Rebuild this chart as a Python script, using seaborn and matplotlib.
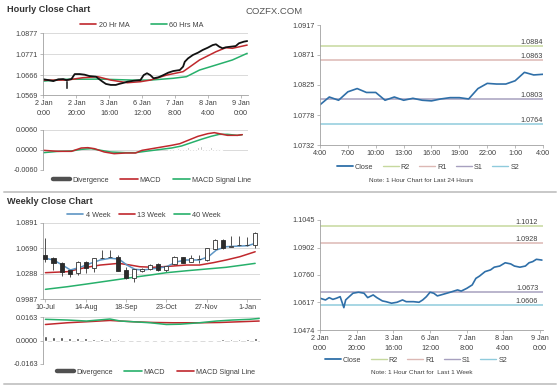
import numpy as np
import pandas as pd
import matplotlib
matplotlib.use("Agg")
import matplotlib.pyplot as plt
from matplotlib.lines import Line2D
import seaborn as sns

# ------------------------------------------------------------------ data
# Hourly close chart (x = hourly bar index)
h_tick_pos = [0, 20, 40, 60, 80, 100, 120]
h_tick_labels = ["2 Jan\n0:00", "2 Jan\n20:00", "3 Jan\n16:00", "6 Jan\n12:00",
                 "7 Jan\n8:00", "8 Jan\n4:00", "9 Jan\n0:00"]
h_yticks = [1.0569, 1.0666, 1.0771, 1.0877]
h_close_idx = [0, 3, 6, 9, 12, 14, 17, 19, 22, 25, 28, 32, 34, 36, 38, 41, 44, 46,
               49, 51, 55, 59, 61, 63, 65, 67, 70, 73, 76, 79, 83, 85, 86, 88, 91,
               94, 97, 100, 103, 105, 107, 109, 111, 114, 117, 119, 122, 124]
h_close = [1.0647, 1.0643, 1.0638, 1.0647, 1.0648, 1.0643, 1.0648, 1.0673, 1.0673,
           1.0670, 1.0663, 1.0660, 1.0647, 1.0635, 1.0624, 1.0619, 1.0619, 1.0624,
           1.0630, 1.0635, 1.0640, 1.0643, 1.0668, 1.0677, 1.0668, 1.0652, 1.0657,
           1.0668, 1.0680, 1.0688, 1.0693, 1.0710, 1.0734, 1.0751, 1.0768, 1.0779,
           1.0793, 1.0804, 1.0817, 1.0821, 1.0809, 1.0801, 1.0806, 1.0809, 1.0812,
           1.0826, 1.0834, 1.0837]
h_candle_idx = [14]
h_candle_open = [1.0643]
h_candle_close = [1.0600]
h_ma20_idx = [0, 14, 24, 33, 41, 51, 59, 65, 75, 85, 95, 105, 111, 115, 124]
h_ma20 = [1.0643, 1.0643, 1.0655, 1.0660, 1.0643, 1.0630, 1.0635, 1.0643, 1.0668,
          1.0685, 1.0743, 1.0784, 1.0804, 1.0801, 1.0817]
h_ma60_idx = [0, 14, 34, 55, 65, 79, 87, 95, 105, 115, 124]
h_ma60 = [1.0638, 1.0647, 1.0648, 1.0643, 1.0643, 1.0652, 1.0660, 1.0693, 1.0718,
          1.0743, 1.0776]
h_macd_idx = [0, 9, 17, 23, 27, 31, 37, 43, 50, 56, 60, 66, 72, 78, 83, 88, 94, 100,
              104, 107, 112, 118, 121]
h_macd = [-0.0001, -0.0004, -0.0004, 0.0006, 0.0007, 0.0004, -0.0006, -0.0011,
          -0.0009, -0.0009, -0.0001, 0.0004, 0.0009, 0.0014, 0.0019, 0.0029, 0.0041,
          0.0049, 0.0052, 0.0049, 0.0044, 0.0044, 0.0046]
h_sig_idx = [0, 9, 17, 23, 29, 35, 41, 50, 56, 62, 70, 78, 84, 90, 96, 102, 107, 112,
             118, 121]
h_sig = [-0.0008, -0.0004, -0.0003, 0.0002, 0.0004, -0.0001, -0.0006, -0.0008,
         -0.0008, -0.0004, 0.0001, 0.0006, 0.0012, 0.0022, 0.0032, 0.0041, 0.0047,
         0.0047, 0.0044, 0.0046]
h_div_idx = [76, 78, 80, 82, 84, 86, 88, 90, 92, 94, 96, 98, 100, 102, 104, 106, 108]
h_div = [0.0002, 0.0003, 0.0004, 0.0005, 0.0006, 0.0007, 0.0008, 0.0009, 0.0010,
         0.0010, 0.0011, 0.0010, 0.0009, 0.0008, 0.0006, 0.0004, 0.0002]
h_macd_ticks = [-0.0060, 0.0, 0.0060]

# Last 24 hours
d_hours = ["4:00", "7:00", "10:00", "13:00", "16:00", "19:00", "22:00", "1:00", "4:00"]
d_close = [1.0794, 1.0806, 1.0801, 1.0814, 1.0819, 1.0813, 1.0813, 1.0801, 1.0806,
           1.0801, 1.0804, 1.0801, 1.0800, 1.0803, 1.0805, 1.0805, 1.0803, 1.0819,
           1.0827, 1.0826, 1.0826, 1.0831, 1.0844, 1.0840, 1.0841]
d_yticks = [1.0732, 1.0778, 1.0825, 1.0871, 1.0917]
d_levels = [1.0884, 1.0863, 1.0803, 1.0764]   # R2, R1, S1, S2

# Weekly close chart (x = week index)
w_tick_pos = [0, 5, 10, 15, 20, 25]
w_tick_labels = ["10-Jul", "14-Aug", "18-Sep", "23-Oct", "27-Nov", "1-Jan"]
w_ytick_vals = [0.9987, 1.0288, 1.0589, 1.0891]
w_ytick_labels = ["0.9987", "1.0288", "1.0690", "1.0891"]
w_open = [1.0510, 1.0471, 1.0411, 1.0332, 1.0293, 1.0430, 1.0352, 1.0471, 1.0488,
          1.0490, 1.0332, 1.0233, 1.0320, 1.0340, 1.0403, 1.0332, 1.0403, 1.0483,
          1.0430, 1.0461, 1.0451, 1.0578, 1.0689, 1.0606, 1.0626, 1.0626, 1.0629]
w_high = [1.0709, 1.0490, 1.0430, 1.0340, 1.0440, 1.0440, 1.0475, 1.0570, 1.0570,
          1.0510, 1.0364, 1.0345, 1.0350, 1.0400, 1.0410, 1.0385, 1.0500, 1.0490,
          1.0510, 1.0510, 1.0595, 1.0700, 1.0695, 1.0740, 1.0740, 1.0730, 1.0780]
w_low = [1.0427, 1.0332, 1.0260, 1.0252, 1.0272, 1.0293, 1.0312, 1.0468, 1.0486,
         1.0320, 1.0225, 1.0193, 1.0310, 1.0330, 1.0325, 1.0312, 1.0395, 1.0410,
         1.0425, 1.0420, 1.0440, 1.0570, 1.0585, 1.0600, 1.0620, 1.0620, 1.0590]
w_close = [1.0459, 1.0411, 1.0312, 1.0284, 1.0430, 1.0352, 1.0471, 1.0474, 1.0491,
           1.0323, 1.0233, 1.0340, 1.0340, 1.0391, 1.0332, 1.0380, 1.0490, 1.0419,
           1.0471, 1.0468, 1.0590, 1.0689, 1.0590, 1.0612, 1.0632, 1.0632, 1.0775]
w_ma4_idx = [0, 1.0, 2.1, 3.1, 4.3, 5.6, 6.8, 8.0, 9.1, 10.1, 11.1, 12.1, 13.8, 15.0,
             16.3, 17.5, 19.1, 20.2, 21.2, 22.4, 24.1, 25.1, 26.0]
w_ma4 = [1.0471, 1.0451, 1.0391, 1.0332, 1.0364, 1.0411, 1.0451, 1.0471, 1.0463,
         1.0391, 1.0340, 1.0332, 1.0352, 1.0371, 1.0430, 1.0451, 1.0451, 1.0490,
         1.0570, 1.0609, 1.0617, 1.0621, 1.0649]
w_ma13_idx = [0, 2.7, 5.1, 6.8, 9.1, 10.5, 11.7, 13.4, 15.8, 17.5, 19.1, 20.8, 22.4,
              24.1, 26.0]
w_ma13 = [1.0300, 1.0312, 1.0364, 1.0391, 1.0411, 1.0391, 1.0371, 1.0364, 1.0379,
          1.0391, 1.0391, 1.0419, 1.0451, 1.0490, 1.0549]
w_ma40_idx = [0, 2.7, 5.1, 8.0, 10.9, 13.0, 15.0, 17.5, 20.0, 22.4, 24.5, 26.0]
w_ma40 = [1.0102, 1.0133, 1.0165, 1.0205, 1.0245, 1.0272, 1.0300, 1.0323, 1.0344,
          1.0364, 1.0391, 1.0411]
w_macd_idx = [0, 2.7, 5.1, 8.0, 9.3, 10.9, 13.0, 15.0, 16.7, 19.1, 21.2, 23.2, 25.3,
              26.5]
w_macd = [0.0147, 0.0142, 0.0135, 0.0149, 0.0135, 0.0130, 0.0123, 0.0111, 0.0113,
          0.0123, 0.0135, 0.0142, 0.0147, 0.0153]
w_sig_idx = [0, 2.7, 5.1, 8.0, 10.9, 13.4, 15.8, 19.1, 21.6, 24.1, 26.5]
w_sig = [0.0111, 0.0123, 0.0130, 0.0139, 0.0130, 0.0125, 0.0123, 0.0123, 0.0125,
         0.0130, 0.0135]
w_div = [0.0030, 0.0026, 0.0022, 0.0016, 0.0016, 0.0014, 0.0012, 0.0012, 0.0014,
         0.0008, 0.0004, -0.0006, -0.0007, -0.0008, -0.0007, -0.0008, -0.0007,
         -0.0006, -0.0006, -0.0005, -0.0005, 0.0006, 0.0008, 0.0009, 0.0010, 0.0012,
         0.0014]
w_macd_ticks = [-0.0163, 0.0, 0.0163]

# Last week hourly
k_close_idx = [0, 3, 5, 7, 9, 11, 13, 14, 15, 18, 21, 24, 26, 29, 31, 34, 36, 39, 42,
               45, 47, 51, 54, 56, 58, 60, 62, 64, 67, 71, 75, 77, 80, 83, 85, 87, 90,
               93, 95, 98, 101, 104, 106, 109, 112, 114, 116, 118, 121]
k_close = [1.0639, 1.0630, 1.0642, 1.0633, 1.0639, 1.0647, 1.0590, 1.0630, 1.0639,
           1.0665, 1.0670, 1.0665, 1.0642, 1.0656, 1.0642, 1.0625, 1.0621, 1.0613,
           1.0618, 1.0630, 1.0621, 1.0621, 1.0618, 1.0630, 1.0647, 1.0670, 1.0665,
           1.0651, 1.0659, 1.0670, 1.0682, 1.0676, 1.0690, 1.0708, 1.0742, 1.0754,
           1.0777, 1.0786, 1.0800, 1.0806, 1.0823, 1.0817, 1.0806, 1.0800, 1.0806,
           1.0823, 1.0829, 1.0841, 1.0837]
k_yticks = [1.0474, 1.0617, 1.0760, 1.0902, 1.1045]
k_levels = [1.1012, 1.0928, 1.0673, 1.0606]   # R2, R1, S1, S2

# ------------------------------------------------------------------ style
sns.set_theme(style="white")
plt.rcParams["font.family"] = ["Liberation Sans", "DejaVu Sans"]

RED = "#c0282d"
GREEN = "#27b06b"
BLUE4 = "#5d95c4"
CLOSE = "#2f6fa8"
LVL = ["#c6d89e", "#dcb8b4", "#a7a0bf", "#8fcbdc"]
TXT = "#404040"
GRID = "#d4d4d4"
FS = 5.2

W, H = 560, 386
fig = plt.figure(figsize=(W / 100, H / 100), dpi=100)
fig.patch.set_facecolor("white")


def rect(x0, y0, x1, y1):
    return [x0 / W, 1 - y1 / H, (x1 - x0) / W, (y1 - y0) / H]


def style(ax, grid=True, bottom=True):
    for s in ["top", "right"]:
        ax.spines[s].set_visible(False)
    ax.spines["left"].set_color("#a0a0a0")
    ax.spines["left"].set_linewidth(0.6)
    ax.spines["bottom"].set_color("#a0a0a0")
    ax.spines["bottom"].set_linewidth(0.6)
    ax.spines["bottom"].set_visible(bottom)
    ax.tick_params(labelsize=FS, colors="#a0a0a0", labelcolor=TXT, length=2.2,
                   width=0.5, pad=1.5, left=True, bottom=bottom)
    if grid:
        ax.yaxis.grid(True, color=GRID, linewidth=0.6)
    else:
        ax.grid(False)
    ax.set_xlabel("")
    ax.set_ylabel("")
    ax.set_facecolor("white")


def fig_legend(handles, labels, cx, cy, ncol, hl=2.0, cs=1.5):
    fig.legend(handles, labels, loc="center", bbox_to_anchor=(cx / W, 1 - cy / H),
               ncol=ncol, frameon=False, fontsize=FS, handlelength=hl,
               columnspacing=cs, handletextpad=0.3, labelcolor=TXT,
               borderaxespad=0, borderpad=0)


# titles / separators
fig.text(7 / W, 1 - 9 / H, "Hourly Close Chart", fontsize=6.6, fontweight="bold",
         color="#333333", va="center", ha="left")
fig.text(7 / W, 1 - 202 / H, "Weekly Close Chart", fontsize=6.6, fontweight="bold",
         color="#333333", va="center", ha="left")
fig.text(246 / W, 1 - 11 / H, "COZFX.COM", fontsize=6.8, color="#555555",
         va="center", ha="left")
for yy in (192, 384):
    fig.add_artist(Line2D([4 / W, 556 / W], [1 - yy / H, 1 - yy / H],
                          color="#c8c8c8", linewidth=1.4))

# ------------------------------------------------------------------ hourly
ax1 = fig.add_axes(rect(43, 33, 248, 95))
sns.lineplot(x=h_ma60_idx, y=h_ma60, ax=ax1, color=GREEN, linewidth=1.1)
sns.lineplot(x=h_ma20_idx, y=h_ma20, ax=ax1, color=RED, linewidth=1.1)
sns.lineplot(x=h_close_idx, y=h_close, ax=ax1, color="#111111", linewidth=1.3)
ax1.bar(h_candle_idx, np.array(h_candle_close) - np.array(h_candle_open),
        bottom=h_candle_open, width=1.6, color="#222222")
ax1.set_xlim(-0.3, 124.5)
ax1.set_ylim(h_yticks[0], h_yticks[-1])
ax1.set_yticks(h_yticks)
ax1.set_yticklabels([f"{v:.4f}" for v in h_yticks])
ax1.set_xticks(h_tick_pos)
ax1.set_xticklabels(h_tick_labels, linespacing=1.5)
style(ax1)
fig_legend([Line2D([], [], color=RED, lw=1.2), Line2D([], [], color=GREEN, lw=1.2)],
           ["20 Hr MA", "60 Hrs MA"], 142, 25, 2, hl=2.2, cs=3.0)

ax2 = fig.add_axes(rect(43, 130, 248, 170))
ax2.bar(h_div_idx, h_div, width=0.9, color="#9a9a9a")
sns.lineplot(x=h_sig_idx, y=h_sig, ax=ax2, color=GREEN, linewidth=1.1)
sns.lineplot(x=h_macd_idx, y=h_macd, ax=ax2, color=RED, linewidth=1.1)
ax2.set_xlim(-0.3, 124.5)
ax2.set_ylim(-0.0060, 0.0060)
ax2.set_yticks(h_macd_ticks)
ax2.set_yticklabels([f"{v:.4f}" for v in h_macd_ticks])
ax2.set_xticks([])
style(ax2, bottom=False)
fig_legend([Line2D([], [], color="#505050", lw=3.2), Line2D([], [], color=RED, lw=1.2),
            Line2D([], [], color=GREEN, lw=1.2)],
           ["Divergence", "MACD", "MACD Signal Line"], 152, 180, 3, hl=2.4, cs=1.6)

# ------------------------------------------------------------------ last 24h
ax3 = fig.add_axes(rect(320, 25, 543, 145))
d_x = list(range(len(d_close)))
for lv, c in zip(d_levels, LVL):
    ax3.axhline(lv, color=c, linewidth=1.1)
    ax3.text(24, lv, f"{lv:.4f}", ha="right", va="bottom", fontsize=FS, color=TXT)
sns.lineplot(x=d_x, y=d_close, ax=ax3, color=CLOSE, linewidth=1.2)
ax3.set_xlim(0, 24)
ax3.set_ylim(d_yticks[0], d_yticks[-1])
ax3.set_yticks(d_yticks)
ax3.set_yticklabels([f"{v:.4f}" for v in d_yticks])
ax3.set_xticks(range(0, 25, 3))
ax3.set_xticklabels(d_hours)
style(ax3, grid=False)
fig_legend([Line2D([], [], color=CLOSE, lw=1.3)] +
           [Line2D([], [], color=c, lw=1.0) for c in LVL],
           ["Close", "R2", "R1", "S1", "S2"], 428, 167, 5, hl=2.2, cs=1.3)
fig.text(421 / W, 1 - 180 / H, "Note: 1 Hour Chart for Last 24 Hours", fontsize=4.6,
         color=TXT, ha="center", va="center")

# ------------------------------------------------------------------ weekly
ax4 = fig.add_axes(rect(43, 223, 260, 299))
wk = np.arange(len(w_close))
w_o = np.array(w_open)
w_c = np.array(w_close)
ax4.vlines(wk, w_low, w_high, color="#333333", linewidth=0.6, zorder=2)
sns.lineplot(x=w_ma40_idx, y=w_ma40, ax=ax4, color=GREEN, linewidth=1.1)
sns.lineplot(x=w_ma13_idx, y=w_ma13, ax=ax4, color=RED, linewidth=1.1)
sns.lineplot(x=w_ma4_idx, y=w_ma4, ax=ax4, color=BLUE4, linewidth=1.1)
up = w_c >= w_o
body = np.maximum(np.abs(w_c - w_o), 0.0002)
ax4.bar(wk[up], body[up], bottom=np.minimum(w_o, w_c)[up], width=0.5,
        facecolor="white", edgecolor="#333333", linewidth=0.6, zorder=3)
ax4.bar(wk[~up], body[~up], bottom=np.minimum(w_o, w_c)[~up], width=0.5,
        facecolor="#2b2b2b", edgecolor="#2b2b2b", linewidth=0.6, zorder=3)
ax4.set_xlim(-0.3, 26.6)
ax4.set_ylim(w_ytick_vals[0], w_ytick_vals[-1])
ax4.set_yticks(w_ytick_vals)
ax4.set_yticklabels(w_ytick_labels)
ax4.set_xticks(w_tick_pos)
ax4.set_xticklabels(w_tick_labels)
style(ax4)
fig_legend([Line2D([], [], color=BLUE4, lw=1.2), Line2D([], [], color=RED, lw=1.2),
            Line2D([], [], color=GREEN, lw=1.2)],
           ["4 Week", "13 Week", "40 Week"], 144, 215, 3, hl=2.2, cs=1.2)

ax5 = fig.add_axes(rect(43, 317, 260, 364))
ax5.bar(wk, w_div, width=0.35, color="#3a3a3a", zorder=3)
sns.lineplot(x=w_sig_idx, y=w_sig, ax=ax5, color=RED, linewidth=1.1)
sns.lineplot(x=w_macd_idx, y=w_macd, ax=ax5, color=GREEN, linewidth=1.1)
ax5.set_xlim(-0.3, 26.6)
ax5.set_ylim(-0.0163, 0.0163)
ax5.set_yticks(w_macd_ticks)
ax5.set_yticklabels([f"{v:.4f}" for v in w_macd_ticks])
ax5.set_xticks([])
style(ax5, bottom=False)
fig_legend([Line2D([], [], color="#505050", lw=3.2), Line2D([], [], color=GREEN, lw=1.2),
            Line2D([], [], color=RED, lw=1.2)],
           ["Divergence", "MACD", "MACD Signal Line"], 156, 372, 3, hl=2.4, cs=1.6)

# ------------------------------------------------------------------ last week
ax6 = fig.add_axes(rect(320, 220, 543, 330))
for lv, c in zip(k_levels, LVL):
    ax6.axhline(lv, color=c, linewidth=1.1)
    ax6.text(119, lv, f"{lv:.4f}", ha="right", va="bottom", fontsize=FS, color=TXT)
sns.lineplot(x=k_close_idx, y=k_close, ax=ax6, color=CLOSE, linewidth=1.2)
ax6.set_xlim(0, 121.6)
ax6.set_ylim(k_yticks[0], k_yticks[-1])
ax6.set_yticks(k_yticks)
ax6.set_yticklabels([f"{v:.4f}" for v in k_yticks])
ax6.set_xticks(h_tick_pos)
ax6.set_xticklabels(h_tick_labels, linespacing=1.5)
style(ax6, grid=False)
fig_legend([Line2D([], [], color=CLOSE, lw=1.3)] +
           [Line2D([], [], color=c, lw=1.0) for c in LVL],
           ["Close", "R2", "R1", "S1", "S2"], 416, 360, 5, hl=2.2, cs=1.3)
fig.text(422 / W, 1 - 373 / H, "Note: 1 Hour Chart for  Last 1 Week", fontsize=4.6,
         color=TXT, ha="center", va="center")

fig.savefig("out.png", dpi=100, facecolor="white")
